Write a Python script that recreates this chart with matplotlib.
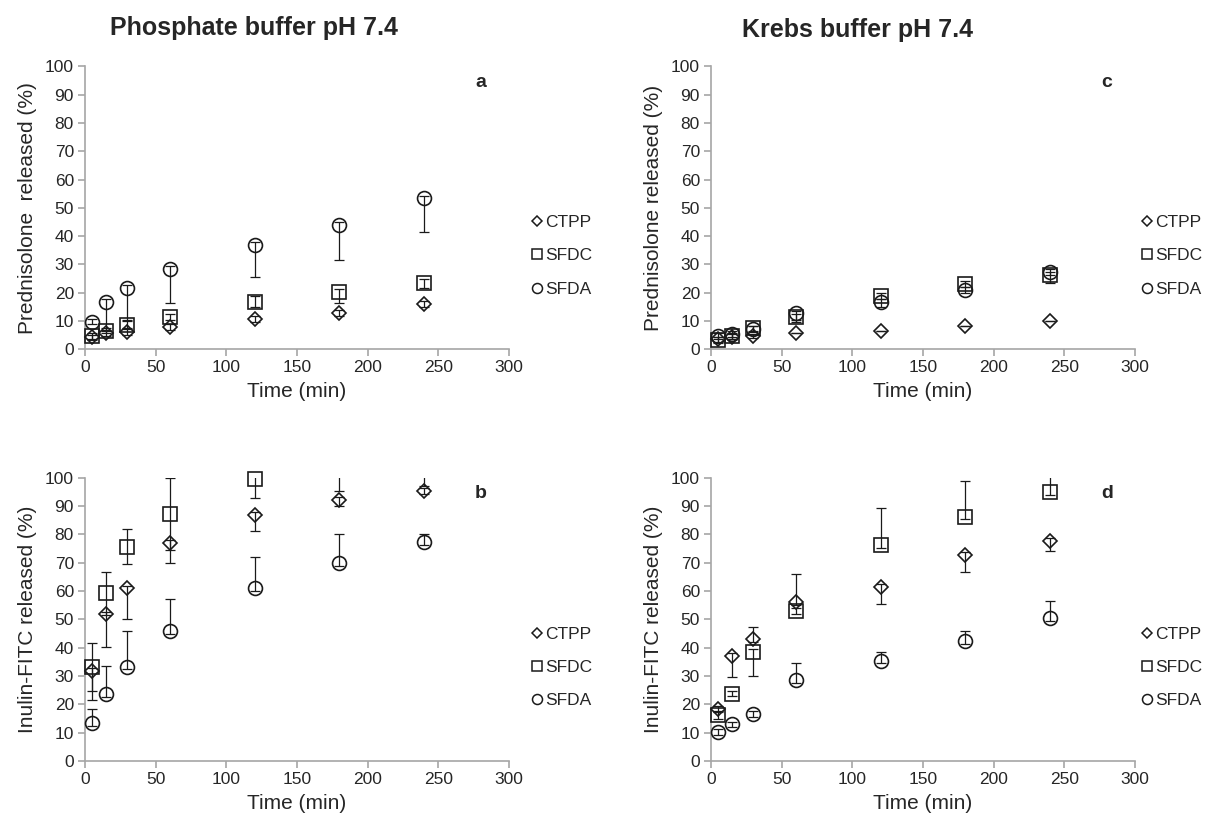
import matplotlib
matplotlib.use("Agg")
import matplotlib.pyplot as plt
from matplotlib.lines import Line2D

plt.rcParams['font.family'] = ['Liberation Sans', 'DejaVu Sans']

time_min = [5, 15, 30, 60, 120, 180, 240]
series_names = ["CTPP", "SFDC", "SFDA"]

# Panel a: Phosphate buffer, prednisolone
a_ctpp = [4.2, 5.6, 6.2, 7.8, 10.6, 12.9, 16.0]
a_ctpp_lo = [1.0, 1.0, 1.0, 1.0, 1.0, 1.0, 1.0]
a_ctpp_hi = [1.0, 1.0, 1.0, 1.0, 1.0, 1.0, 1.0]
a_sfdc = [4.8, 6.6, 8.6, 11.5, 16.8, 20.4, 23.3]
a_sfdc_lo = [1.0, 1.0, 1.0, 1.0, 2.0, 3.9, 1.5]
a_sfdc_hi = [1.0, 1.0, 1.5, 1.0, 2.0, 1.0, 1.5]
a_sfda = [9.8, 16.8, 21.8, 28.5, 37.0, 43.9, 53.3]
a_sfda_lo = [1.0, 10.0, 11.4, 12.2, 11.3, 12.3, 11.9]
a_sfda_hi = [1.0, 1.0, 1.0, 1.0, 1.0, 1.0, 1.0]

# Panel b: Phosphate buffer, inulin-FITC
b_ctpp = [31.8, 51.7, 60.9, 77.0, 86.7, 92.0, 95.3]
b_ctpp_lo = [10.3, 11.4, 10.9, 7.0, 5.6, 2.1, 1.0]
b_ctpp_hi = [1.0, 1.0, 1.0, 1.0, 1.0, 1.0, 1.0]
b_sfdc = [33.3, 59.1, 75.6, 87.3, 99.6, 104.0, 104.0]
b_sfdc_lo = [8.5, 7.6, 6.2, 12.7, 7.0, 8.7, 7.1]
b_sfdc_hi = [8.4, 7.6, 6.2, 12.7, 7.0, 0.0, 0.0]
b_sfda = [13.5, 23.5, 33.3, 45.9, 60.9, 69.7, 77.2]
b_sfda_lo = [1.0, 1.0, 1.0, 1.0, 1.0, 1.0, 1.0]
b_sfda_hi = [4.7, 10.1, 12.6, 11.2, 10.9, 10.3, 2.7]

# Panel c: Krebs buffer, prednisolone
c_ctpp = [3.5, 4.5, 4.7, 5.6, 6.5, 8.2, 9.9]
c_ctpp_lo = [0.8, 0.8, 0.8, 0.0, 0.0, 0.0, 0.0]
c_ctpp_hi = [0.8, 0.8, 0.8, 0.0, 0.0, 0.0, 0.0]
c_sfdc = [3.3, 4.7, 7.4, 11.3, 18.8, 23.1, 26.2]
c_sfdc_lo = [1.0, 1.0, 1.0, 1.0, 1.0, 1.0, 2.7]
c_sfdc_hi = [1.0, 1.0, 1.0, 1.0, 1.0, 1.0, 1.0]
c_sfda = [4.7, 5.4, 7.1, 12.7, 16.8, 20.9, 27.4]
c_sfda_lo = [1.0, 1.0, 1.0, 2.9, 2.0, 1.0, 1.0]
c_sfda_hi = [1.0, 1.0, 1.0, 1.0, 1.0, 1.0, 1.0]

# Panel d: Krebs buffer, inulin-FITC
d_ctpp = [18.4, 37.2, 43.0, 56.0, 61.3, 72.7, 77.6]
d_ctpp_lo = [1.0, 7.5, 1.0, 1.0, 5.8, 5.9, 3.4]
d_ctpp_hi = [1.0, 1.0, 4.2, 10.0, 1.0, 1.0, 1.0]
d_sfdc = [16.2, 23.8, 38.5, 53.0, 76.2, 86.2, 95.0]
d_sfdc_lo = [1.5, 1.0, 8.4, 1.0, 1.0, 1.0, 1.0]
d_sfdc_hi = [1.5, 1.0, 1.0, 1.0, 13.2, 12.5, 6.0]
d_sfda = [10.2, 12.9, 16.6, 28.4, 35.4, 42.2, 50.4]
d_sfda_lo = [1.0, 1.0, 1.0, 1.0, 1.0, 1.0, 1.0]
d_sfda_hi = [1.0, 1.0, 1.0, 6.2, 2.9, 3.8, 6.1]

titles = ["Phosphate buffer pH 7.4", "Krebs buffer pH 7.4"]
ylabels = ["Prednisolone  released (%)", "Inulin-FITC released (%)",
           "Prednisolone released (%)", "Inulin-FITC released (%)"]
panel_letters = ["a", "b", "c", "d"]
xlabel = "Time (min)"

markers = ["D", "s", "o"]
msizes = [7.5, 9.5, 10.0]

W, H = 1205, 823
fig = plt.figure(figsize=(W / 100, H / 100), dpi=100)

def axrect(left, bottom, right, top):
    return [left / W, 1 - bottom / H, (right - left) / W, (bottom - top) / H]

rects = [axrect(85, 349.3, 509, 66.3), axrect(85, 761, 509, 477.5),
         axrect(711, 349.3, 1135, 66.3), axrect(711, 761, 1135, 477.5)]
legend_x = [1.051, 1.051, 1.013, 1.013]

panel_data = [
    [(a_ctpp, a_ctpp_lo, a_ctpp_hi), (a_sfdc, a_sfdc_lo, a_sfdc_hi), (a_sfda, a_sfda_lo, a_sfda_hi)],
    [(b_ctpp, b_ctpp_lo, b_ctpp_hi), (b_sfdc, b_sfdc_lo, b_sfdc_hi), (b_sfda, b_sfda_lo, b_sfda_hi)],
    [(c_ctpp, c_ctpp_lo, c_ctpp_hi), (c_sfdc, c_sfdc_lo, c_sfdc_hi), (c_sfda, c_sfda_lo, c_sfda_hi)],
    [(d_ctpp, d_ctpp_lo, d_ctpp_hi), (d_sfdc, d_sfdc_lo, d_sfdc_hi), (d_sfda, d_sfda_lo, d_sfda_hi)],
]

axis_gray = "#a6a6a6"
text_col = "#262626"

for i in range(4):
    ax = fig.add_axes(rects[i])
    for j, (vals, lo, hi) in enumerate(panel_data[i]):
        ax.errorbar(time_min, vals, yerr=[lo, hi], fmt="none", ecolor="#1a1a1a",
                    elinewidth=0.9, capsize=3.5, capthick=0.9, zorder=2)
        # points beyond the axis maximum are hidden (as in the original chart)
        shown_t = [t for t, v in zip(time_min, vals) if v <= 100]
        shown_v = [v for v in vals if v <= 100]
        ax.plot(shown_t, shown_v, linestyle="none", marker=markers[j], ms=msizes[j],
                mfc="none", mec="#1a1a1a", mew=1.2, zorder=3, clip_on=False)
    ax.set_xlim(0, 300)
    ax.set_ylim(0, 100)
    ax.set_xticks(range(0, 301, 50))
    ax.set_yticks(range(0, 101, 10))
    for s in ["top", "right"]:
        ax.spines[s].set_visible(False)
    for s in ["left", "bottom"]:
        ax.spines[s].set_color(axis_gray)
        ax.spines[s].set_linewidth(1.2)
    ax.tick_params(direction="out", length=5, width=1.2, color=axis_gray,
                   labelsize=12.5, labelcolor=text_col, pad=3)
    ax.set_xlabel(xlabel, fontsize=15, color=text_col, labelpad=5)
    ax.set_ylabel(ylabels[i], fontsize=15, color=text_col, labelpad=6)
    ax.text(0.934, 0.943, panel_letters[i], transform=ax.transAxes, fontsize=14,
            fontweight="bold", color=text_col, ha="center", va="center")
    handles = [Line2D([], [], linestyle="none", marker=markers[j], ms=msizes[j] * 0.72,
                      mfc="none", mec="#1a1a1a", mew=1.1) for j in range(3)]
    ax.legend(handles, series_names, loc="center left", bbox_to_anchor=(legend_x[i], 0.33),
              frameon=False, fontsize=12.5, handlelength=0.7, handletextpad=0.15,
              labelspacing=1.05, borderaxespad=0, borderpad=0, labelcolor=text_col)

fig.text(254 / W, 1 - 28 / H, titles[0], fontsize=18, fontweight="bold",
         color=text_col, ha="center", va="center")
fig.text(858 / W, 1 - 30 / H, titles[1], fontsize=18, fontweight="bold",
         color=text_col, ha="center", va="center")

fig.savefig("out.png", dpi=100)
